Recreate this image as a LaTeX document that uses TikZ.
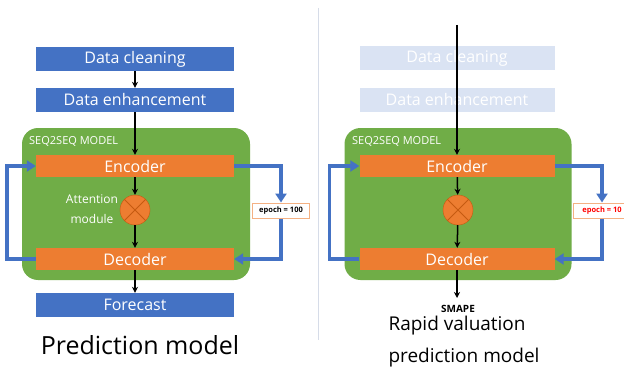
\documentclass[tikz,border=0pt]{standalone}
\usepackage{fontspec}
\setmainfont{Open Sans}
\usetikzlibrary{arrows.meta,positioning}
\definecolor{stepblue}{RGB}{68,114,196}
\definecolor{fadeblue}{RGB}{218,227,243}
\definecolor{unitorange}{RGB}{237,125,49}
\definecolor{darkorange}{RGB}{197,90,17}
\definecolor{modelgreen}{RGB}{112,173,71}
\definecolor{epochline}{RGB}{244,177,131}
\definecolor{divider}{RGB}{214,220,232}

\begin{document}
\begin{tikzpicture}[x=1pt, y=-1pt,
          stepbox/.style={fill=stepblue, text=white, minimum width=198pt,
                          minimum height=24pt, inner sep=0pt,
                          font=\fontsize{16}{16}\selectfont},
          fadebox/.style={stepbox, fill=fadeblue},
          unitbox/.style={stepbox, fill=unitorange, minimum height=22pt},
          modelbox/.style={fill=modelgreen, rounded corners=16pt,
                           minimum width=228pt, minimum height=152pt},
          attn/.style={circle, fill=unitorange, draw=darkorange,
                       minimum size=30pt, inner sep=0pt},
          epochbox/.style={draw=epochline, fill=white, line width=1pt,
                           minimum width=57pt, minimum height=15pt, inner sep=0pt,
                           font=\bfseries\fontsize{7.5}{7.5}\selectfont},
          flow/.style={-{Stealth[length=6pt,width=6pt]}, line width=1.5pt},
          loop/.style={draw=stepblue, line width=3.5pt,
                       -{Triangle[length=9pt,width=11pt]}},
          modeltag/.style={anchor=west, text=white, inner sep=0pt,
                           font=\fontsize{11}{11}\selectfont},
          title/.style={font=\fontsize{25}{25}\selectfont}]
        \clip (0,0) rectangle (624,369);
        \fill[white] (0,0) rectangle (624,369);
        % left: prediction model
        \node[stepbox] (dc1) at (135,59) {Data cleaning};
        \node[stepbox] (de1) at (135,100) {Data enhancement};
        \node[modelbox] (m1) at (136,204) {};
        \node[modeltag] (sq1) at (29,141) {SEQ2SEQ MODEL};
        \node[unitbox] (e1) at (135,166) {Encoder};
        \node[attn] (a1) at (135,210) {};
        \draw[darkorange, line width=0.8pt] (a1.north west) -- (a1.south east)
          (a1.north east) -- (a1.south west);
        \node[text=white, align=center, font=\fontsize{12}{20}\selectfont]
          (at1) at (92,209) {Attention\\module};
        \node[unitbox] (d1) at (135,259) {Decoder};
        \node[stepbox] (f1) at (135,305) {Forecast};
        \node[epochbox] (ep1) at (281,210.5) {epoch = 100};
        \draw[flow] (dc1) -- (de1);
        \draw[flow] (de1) -- (e1);
        \draw[flow] (e1) -- (a1);
        \draw[flow] (a1) -- (d1);
        \draw[flow] (d1) -- (f1);
        \draw[loop] (e1.east) -| (ep1.north);
        \draw[loop] (ep1.south) |- (d1.east);
        \draw[loop] (d1.west) -- ++(-29,0) |- (e1.west);
        \node[title] (t1) at (140,345) {Prediction model};
        % divider
        \draw[divider, line width=0.8pt] (318,8) coordinate (v1) -- (318,340) coordinate (v2);
        % right: rapid valuation prediction model
        \node[fadebox, minimum width=195pt] (dc2) at (457,58.5) {Data cleaning};
        \node[fadebox, minimum width=195pt] (de2) at (457,100) {Data enhancement};
        \node[modelbox, minimum width=227pt] (m2) at (458,204) {};
        \node[modeltag] (sq2) at (352,141) {SEQ2SEQ MODEL};
        \node[unitbox, minimum width=195pt] (e2) at (457,166) {Encoder};
        \node[attn] (a2) at (458,210) {};
        \draw[darkorange, line width=0.8pt] (a2.north west) -- (a2.south east)
          (a2.north east) -- (a2.south west);
        \node[unitbox, minimum width=195pt] (d2) at (457,259) {Decoder};
        \node[epochbox, text=red] (ep2) at (602,210.5) {epoch = 10};
        \coordinate (in2) at (457,25);
        \coordinate (out2) at (457,298);
        \draw[flow] (in2) -- (e2);
        \draw[flow] (e2) -- (a2);
        \draw[flow] (a2) -- (d2);
        \draw[flow] (d2) -- (out2);
        \draw[loop] (e2.east) -| (ep2.north);
        \draw[loop] (ep2.south) |- (d2.east);
        \draw[loop] (d2.west) -- ++(-30,0) |- (e2.west);
        \node[font=\bfseries\fontsize{10}{10}\selectfont, inner sep=1pt]
          (sm2) at (458,309) {SMAPE};
        \node[anchor=west, font=\fontsize{19}{19}\selectfont] (t2) at (385,326) {Rapid valuation};
        \node[anchor=west, font=\fontsize{19}{19}\selectfont] (t3) at (385,358) {prediction model};
      \end{tikzpicture}
\end{document}
